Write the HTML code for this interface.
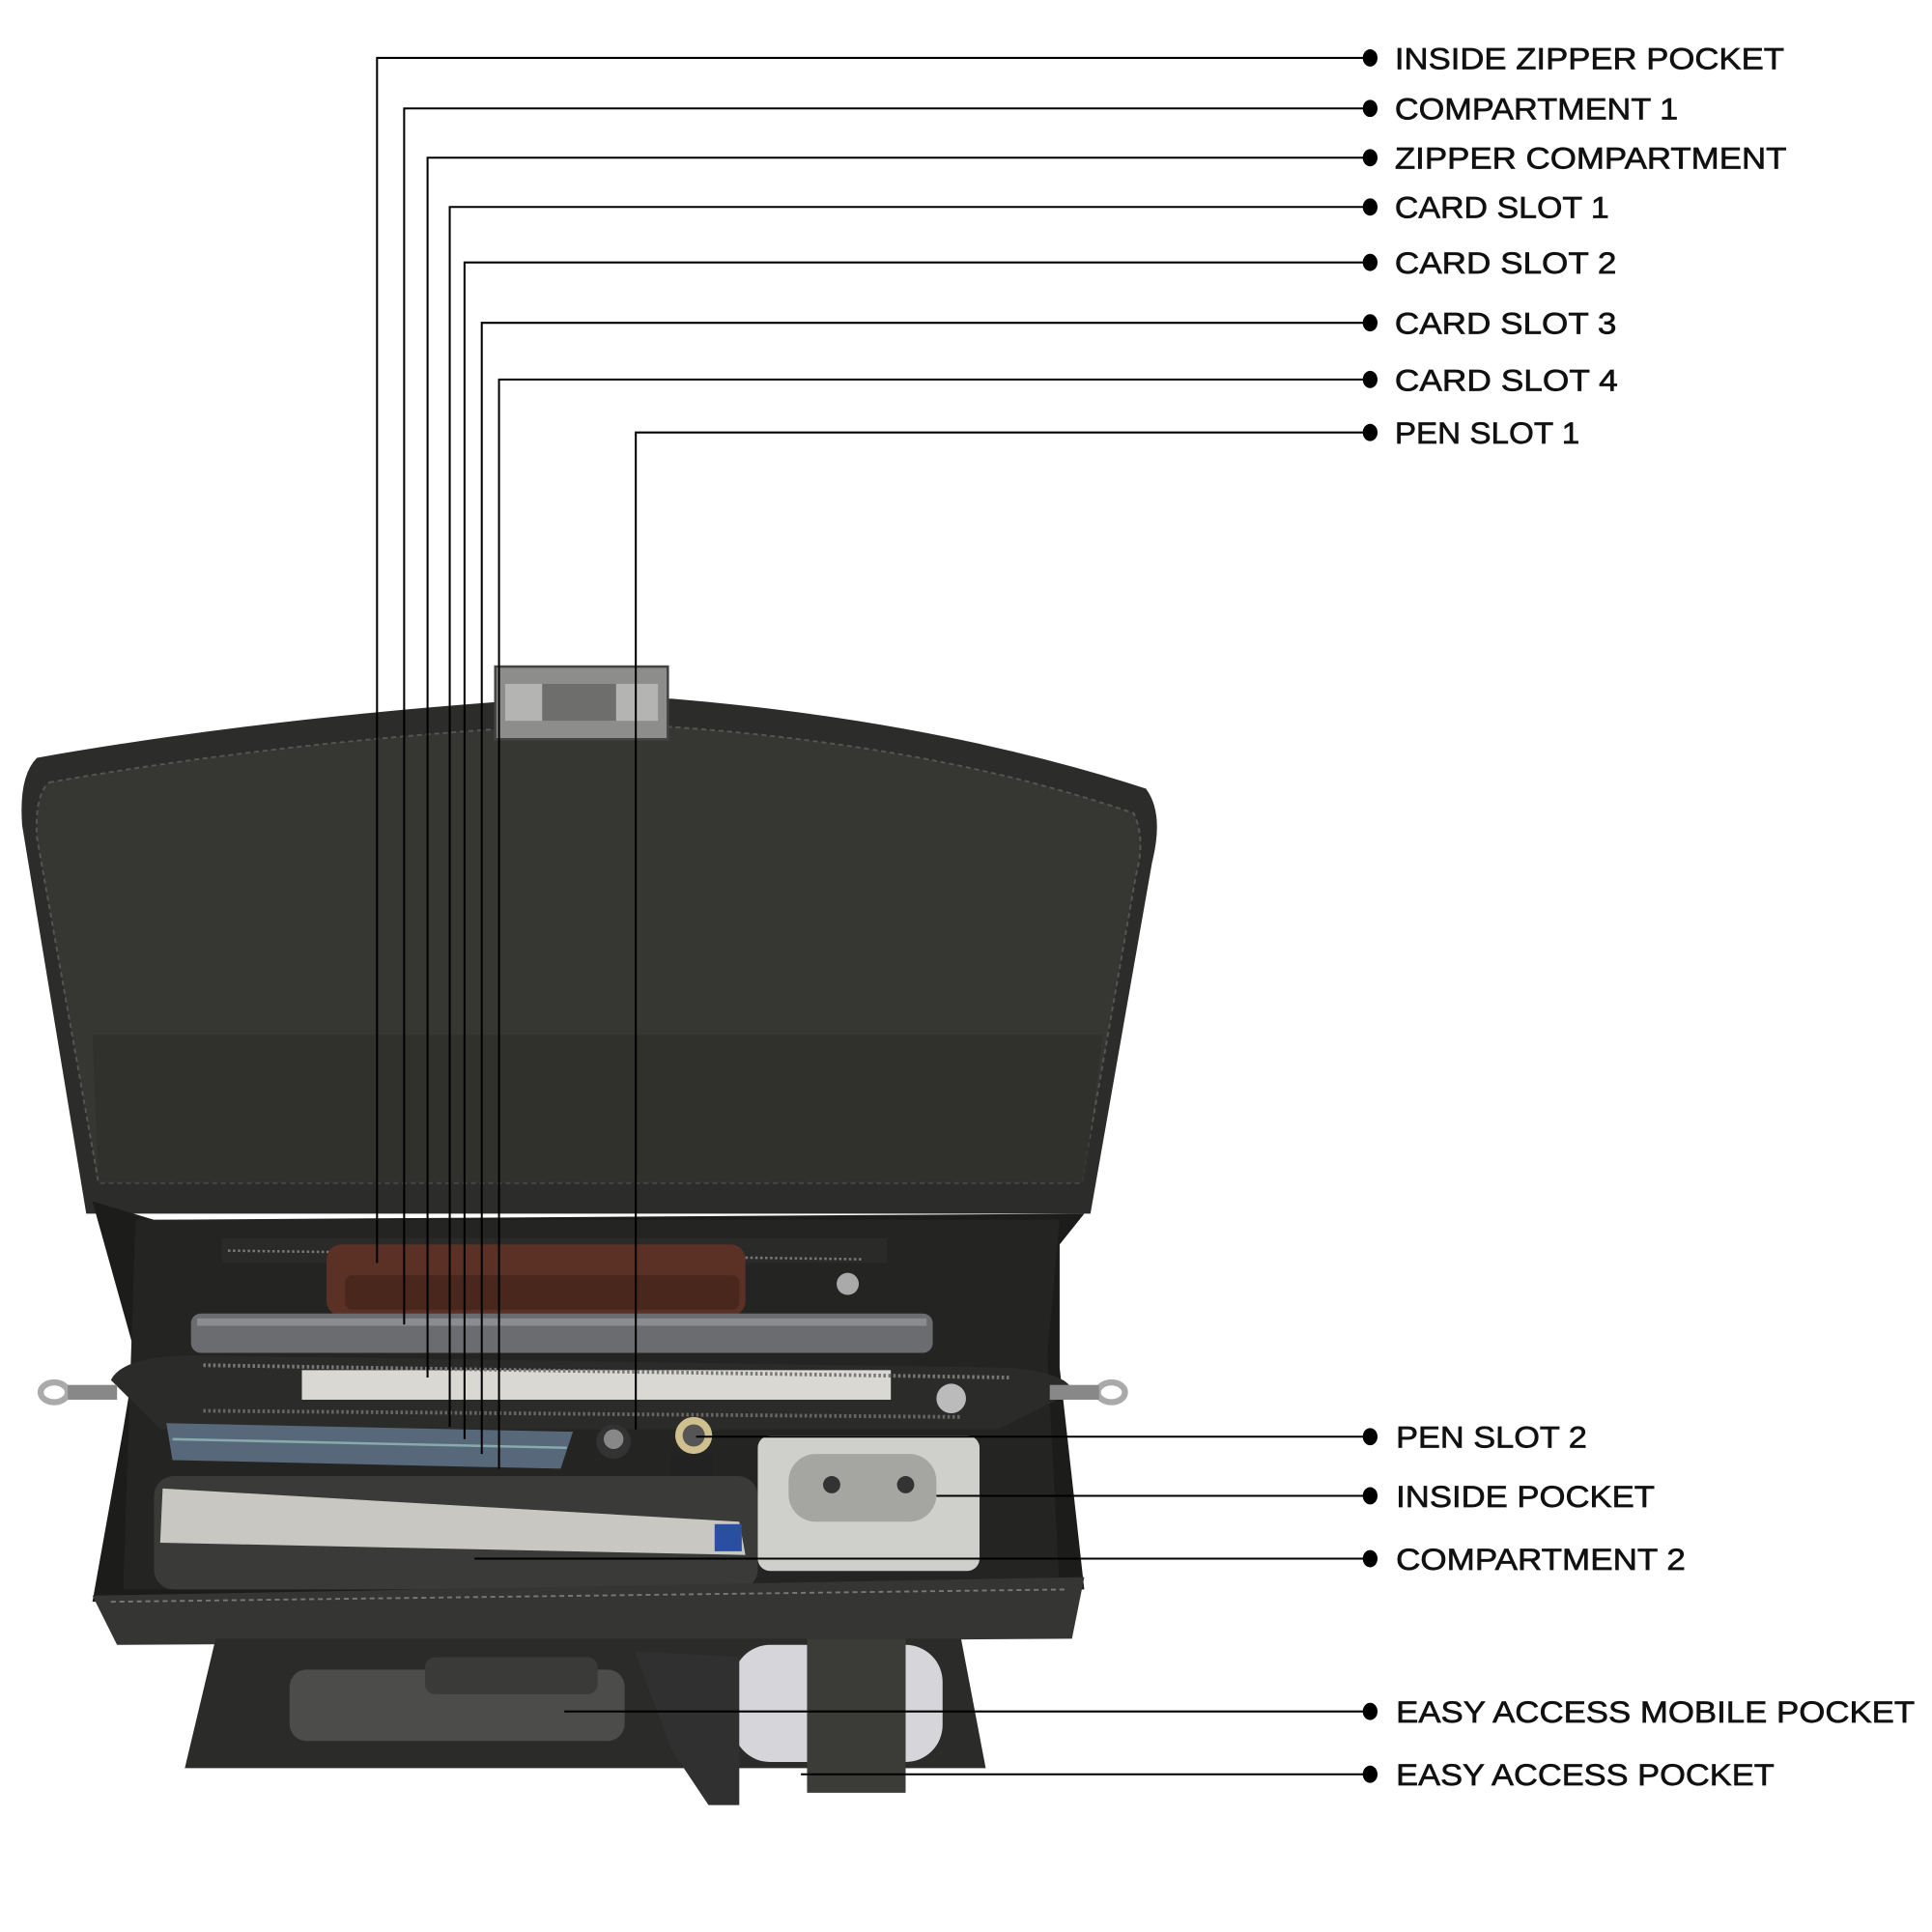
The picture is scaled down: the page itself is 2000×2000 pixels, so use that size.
<!DOCTYPE html>
<html><head><meta charset="utf-8"><style>
html,body{margin:0;padding:0;background:#fff;}
svg{display:block;}
text{font-family:"Liberation Sans",sans-serif;font-size:25px;fill:#111;stroke:#111;stroke-width:0.5;}
</style></head><body>
<svg width="2000" height="2000" viewBox="0 0 1568 1568" xmlns="http://www.w3.org/2000/svg">
<!-- bag flap -->
<path d="M30,615 Q200,585 400,570 L545,567 Q760,585 930,640 Q945,660 935,700 L885,985 L70,985 L18,670 Q15,630 30,615 Z" fill="#2c2c2a"/>
<path d="M40,635 Q210,605 400,592 L545,590 Q760,605 920,660 Q930,680 922,710 L878,960 L80,960 L30,680 Q28,645 40,635 Z" fill="#363633" stroke="#555" stroke-width="1.5" stroke-dasharray="4 3"/>
<path d="M75,840 L895,840 L880,960 L80,960 Z" fill="#2f2f2c" opacity="0.8"/>
<!-- latch -->
<rect x="402" y="541" width="140" height="59" fill="#8d8d8b" stroke="#444" stroke-width="2"/>
<rect x="410" y="555" width="124" height="30" fill="#b4b4b2"/>
<rect x="440" y="555" width="60" height="30" fill="#6e6e6c"/>
<!-- body -->
<path d="M75,975 L125,990 L880,985 L860,1010 L860,1110 L880,1290 L75,1300 L100,1160 L110,1100 Z" fill="#1c1c1b"/>
<path d="M110,990 L860,990 L850,1100 L860,1290 L100,1290 Z" fill="#242423"/>
<!-- zipper pocket top -->
<rect x="180" y="1005" width="540" height="20" fill="#2a2a29"/>
<line x1="185" y1="1015" x2="700" y2="1022" stroke="#777" stroke-width="2" stroke-dasharray="2 2"/>
<!-- wallet -->
<rect x="265" y="1010" width="340" height="58" rx="12" fill="#5a3124"/>
<rect x="280" y="1035" width="320" height="28" rx="6" fill="#4a271c"/>
<circle cx="688" cy="1042" r="9" fill="#aaa"/>
<!-- ipad -->
<rect x="155" y="1066" width="602" height="32" rx="8" fill="#6a6c70"/>
<rect x="160" y="1070" width="592" height="6" fill="#8a8c90"/>
<!-- zipper compartment -->
<path d="M90,1120 Q100,1100 160,1100 L820,1110 Q870,1115 870,1130 L810,1160 L130,1160 Z" fill="#2b2b2a"/>
<rect x="245" y="1112" width="478" height="24" fill="#d9d8d3"/>
<line x1="165" y1="1108" x2="820" y2="1118" stroke="#777" stroke-width="3" stroke-dasharray="2 2"/>
<line x1="165" y1="1145" x2="780" y2="1150" stroke="#666" stroke-width="3" stroke-dasharray="2 2"/>
<circle cx="772" cy="1135" r="12" fill="#bbb"/>
<ellipse cx="44" cy="1130" rx="11" ry="8" fill="none" stroke="#aaa" stroke-width="5"/>
<ellipse cx="902" cy="1130" rx="11" ry="8" fill="none" stroke="#aaa" stroke-width="5"/>
<rect x="55" y="1124" width="40" height="12" fill="#888"/>
<rect x="852" y="1124" width="40" height="12" fill="#888"/>
<!-- cards -->
<path d="M135,1155 L465,1162 L455,1192 L140,1185 Z" fill="#56687a"/>
<line x1="140" y1="1168" x2="460" y2="1175" stroke="#8aa" stroke-width="2"/>
<!-- pens -->
<ellipse cx="498" cy="1170" rx="14" ry="14" fill="#333"/>
<circle cx="498" cy="1168" r="8" fill="#888"/>
<ellipse cx="563" cy="1165" rx="15" ry="15" fill="#d0c090"/>
<circle cx="563" cy="1165" r="9" fill="#555"/>
<rect x="545" y="1180" width="34" height="35" fill="#222"/>
<!-- notebook -->
<rect x="125" y="1198" width="490" height="92" rx="16" fill="#3a3a39"/>
<path d="M132,1208 L600,1235 L605,1262 L130,1252 Z" fill="#c9c7c1"/>
<rect x="580" y="1237" width="22" height="22" fill="#2a4fa0"/>
<!-- charger -->
<rect x="615" y="1165" width="180" height="110" rx="10" fill="#cfcfcb"/>
<rect x="640" y="1180" width="120" height="55" rx="22" fill="#a5a5a2"/>
<circle cx="675" cy="1205" r="7" fill="#333"/>
<circle cx="735" cy="1205" r="7" fill="#333"/>
<!-- front flap strip -->
<path d="M75,1295 L880,1280 L870,1330 L95,1335 Z" fill="#353533"/>
<line x1="90" y1="1300" x2="865" y2="1290" stroke="#777" stroke-width="1.5" stroke-dasharray="4 3"/>
<!-- lower pocket -->
<path d="M175,1330 L780,1330 L800,1435 L150,1435 Z" fill="#2b2b29"/>
<rect x="235" y="1355" width="272" height="58" rx="14" fill="#4c4c4b"/>
<rect x="345" y="1345" width="140" height="30" rx="8" fill="#3a3a38"/>
<rect x="595" y="1335" width="170" height="95" rx="30" fill="#d6d6da"/>
<path d="M515,1340 L600,1345 L600,1465 L575,1465 L545,1420 Z" fill="#303030"/>
<rect x="655" y="1330" width="80" height="125" fill="#3b3b38"/>
<!-- leader lines -->
<g stroke="#000" stroke-width="1.6" fill="none">
<polyline points="306,1025 306,47 1112,47"/>
<polyline points="328,1075 328,88 1112,88"/>
<polyline points="347,1118 347,128 1112,128"/>
<polyline points="365,1158 365,168 1112,168"/>
<polyline points="377,1168 377,213 1112,213"/>
<polyline points="391,1180 391,262 1112,262"/>
<polyline points="405,1192 405,308 1112,308"/>
<polyline points="516,1160 516,351 1112,351"/>
<line x1="565" y1="1166" x2="1112" y2="1166"/>
<line x1="760" y1="1214" x2="1112" y2="1214"/>
<line x1="385" y1="1265" x2="1112" y2="1265"/>
<line x1="458" y1="1389" x2="1112" y2="1389"/>
<line x1="650" y1="1440" x2="1112" y2="1440"/>
</g>
<g fill="#000">
<ellipse cx="1112" cy="47" rx="6" ry="7"/><ellipse cx="1112" cy="88" rx="6" ry="7"/>
<ellipse cx="1112" cy="128" rx="6" ry="7"/><ellipse cx="1112" cy="168" rx="6" ry="7"/>
<ellipse cx="1112" cy="213" rx="6" ry="7"/><ellipse cx="1112" cy="262" rx="6" ry="7"/>
<ellipse cx="1112" cy="308" rx="6" ry="7"/><ellipse cx="1112" cy="351" rx="6" ry="7"/>
<ellipse cx="1112" cy="1166" rx="6" ry="7"/><ellipse cx="1112" cy="1214" rx="6" ry="7"/>
<ellipse cx="1112" cy="1265" rx="6" ry="7"/><ellipse cx="1112" cy="1389" rx="6" ry="7"/>
<ellipse cx="1112" cy="1440" rx="6" ry="7"/>
</g>
<text x="1132" y="56" textLength="316" lengthAdjust="spacingAndGlyphs">INSIDE ZIPPER POCKET</text>
<text x="1132" y="97" textLength="230" lengthAdjust="spacingAndGlyphs">COMPARTMENT 1</text>
<text x="1132" y="137" textLength="318" lengthAdjust="spacingAndGlyphs">ZIPPER COMPARTMENT</text>
<text x="1132" y="177" textLength="174" lengthAdjust="spacingAndGlyphs">CARD SLOT 1</text>
<text x="1132" y="222" textLength="180" lengthAdjust="spacingAndGlyphs">CARD SLOT 2</text>
<text x="1132" y="271" textLength="180" lengthAdjust="spacingAndGlyphs">CARD SLOT 3</text>
<text x="1132" y="317" textLength="181" lengthAdjust="spacingAndGlyphs">CARD SLOT 4</text>
<text x="1132" y="360" textLength="150" lengthAdjust="spacingAndGlyphs">PEN SLOT 1</text>
<text x="1133" y="1175" textLength="155" lengthAdjust="spacingAndGlyphs">PEN SLOT 2</text>
<text x="1133" y="1223" textLength="210" lengthAdjust="spacingAndGlyphs">INSIDE POCKET</text>
<text x="1133" y="1274" textLength="235" lengthAdjust="spacingAndGlyphs">COMPARTMENT 2</text>
<text x="1133" y="1398" textLength="421" lengthAdjust="spacingAndGlyphs">EASY ACCESS MOBILE POCKET</text>
<text x="1133" y="1449" textLength="307" lengthAdjust="spacingAndGlyphs">EASY ACCESS POCKET</text>
</svg>
</body></html>
